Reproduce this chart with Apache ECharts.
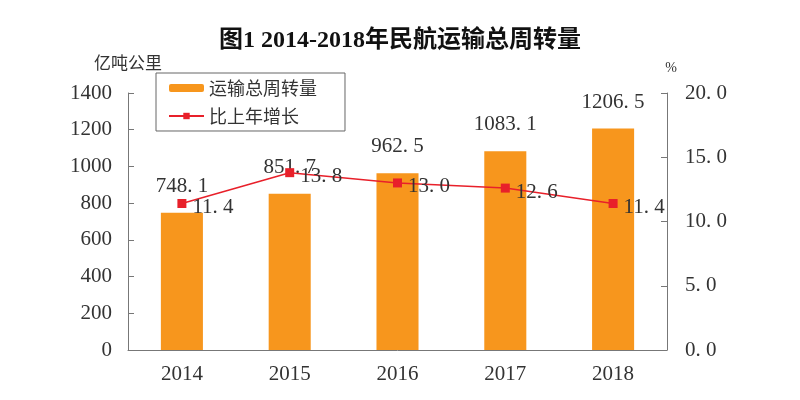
<!DOCTYPE html>
<html><head><meta charset="utf-8">
<script src="https://cdn.jsdelivr.net/npm/echarts@6/dist/echarts.min.js"></script>
<style>html,body{margin:0;padding:0;background:#fff}#c{width:800px;height:400px}</style>
</head><body><div id="c"></div>
<script>
const categories = ['2014','2015','2016','2017','2018'];
const turnover = [748.1, 851.7, 962.5, 1083.1, 1206.5];
const growth = [11.4, 13.8, 13.0, 12.6, 11.4];
const leftTicks = {min:0, max:1400, interval:200};
const rightTicks = {min:0, max:20, interval:5};

const serif = "'Liberation Serif','Noto Sans CJK SC',serif";
const cjk = "'Noto Sans CJK SC',sans-serif";
const fmt1 = v => Number(v).toFixed(1).replace('.', '. ');
const chart = echarts.init(document.getElementById('c'));
chart.setOption({
  animation:false,
  backgroundColor:'#fff',
  title:{text:'图1 2014-2018年民航运输总周转量', left:'center', top:24,
    textStyle:{fontFamily:"'Liberation Serif','Noto Sans CJK SC',serif", fontWeight:'bold', fontSize:24, color:'#111'}},
  legend:{left:156, top:73, orient:'vertical', itemGap:10, itemWidth:35, itemHeight:8,
    borderColor:'#666', borderWidth:1, padding:[6,28,6,12],
    textStyle:{fontFamily:cjk, fontSize:18, color:'#333'},
    data:[{name:'运输总周转量'},{name:'比上年增长'}]},
  grid:{left:128, right:133, top:93, bottom:50},
  xAxis:{type:'category', data:categories,
    axisLine:{lineStyle:{color:'#777'}}, axisTick:{show:false},
    axisLabel:{fontFamily:serif, fontSize:21, color:'#333', margin:14}},
  yAxis:[
    {type:'value', min:leftTicks.min, max:leftTicks.max, interval:leftTicks.interval,
     name:'亿吨公里', nameGap:22, nameTextStyle:{fontFamily:cjk, fontSize:17, color:'#333', align:'center'},
     axisLine:{show:true, lineStyle:{color:'#777'}}, axisTick:{show:true, inside:true, length:6, lineStyle:{color:'#777'}},
     splitLine:{show:false},
     axisLabel:{fontFamily:serif, fontSize:21, color:'#333', margin:16, formatter:v=>String(v)}},
    {type:'value', min:rightTicks.min, max:rightTicks.max, interval:rightTicks.interval,
     name:'%', nameGap:18, nameTextStyle:{fontFamily:serif, fontSize:14, color:'#333', align:'center', padding:[0,0,0,8]},
     axisLine:{show:true, lineStyle:{color:'#777'}}, axisTick:{show:true, inside:true, length:6, lineStyle:{color:'#777'}},
     splitLine:{show:false},
     axisLabel:{fontFamily:serif, fontSize:21, color:'#333', margin:18, formatter:fmt1}}
  ],
  series:[
    {name:'运输总周转量', type:'bar', data:turnover, barWidth:'39%', itemStyle:{color:'#F7961D'},
     label:{show:true, position:'top', distance:16, fontFamily:serif, fontSize:21, color:'#333',
       formatter:p=>fmt1(p.value)}},
    {name:'比上年增长', type:'line', yAxisIndex:1, data:growth, symbol:'rect', symbolSize:9,
     lineStyle:{color:'#E8202A', width:1.5}, itemStyle:{color:'#E8202A'},
     label:{show:true, position:'right', distance:6, offset:[0,4], fontFamily:serif, fontSize:21, color:'#333',
       formatter:p=>fmt1(p.value)}}
  ]
});
</script></body></html>
